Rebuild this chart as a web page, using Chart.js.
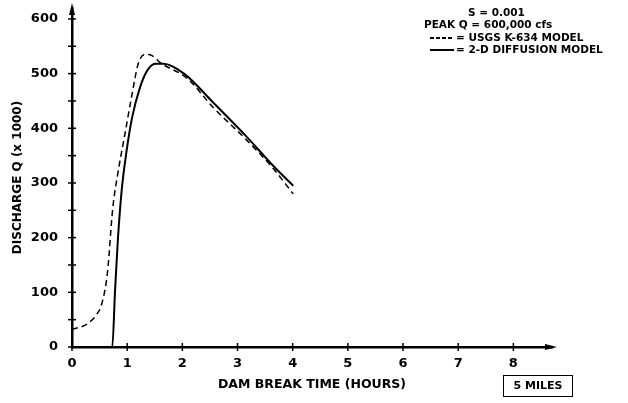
<!DOCTYPE html>
<html><head><meta charset="utf-8">
<script src="https://cdn.jsdelivr.net/npm/chart.js@4/dist/chart.umd.min.js"></script>
<style>
html,body{margin:0;padding:0;background:#fff;}
#wrap{position:relative;width:628px;height:403px;}
canvas{position:absolute;left:0;top:0;}
.t{position:absolute;font-family:'DejaVu Sans',sans-serif;font-weight:bold;font-size:10.5px;line-height:12px;color:#000;white-space:nowrap;}
.dash{position:absolute;height:1.5px;width:24px;background:repeating-linear-gradient(to right,#000 0 4px,transparent 4px 6px);}
.sol{position:absolute;height:1.5px;width:24px;background:#000;}
#box{position:absolute;left:503px;top:375px;width:70px;height:22px;border:1.5px solid #000;box-sizing:border-box;font-family:'DejaVu Sans',sans-serif;font-weight:bold;font-size:11px;line-height:19px;text-align:center;}
</style></head><body>
<div id="wrap">
<canvas id="c" width="628" height="403"></canvas>
<div class="t" style="left:468px;top:6px;">S = 0.001</div>
<div class="t" style="left:424px;top:18px;">PEAK Q = 600,000 cfs</div>
<div class="dash" style="left:430px;top:37px;"></div>
<div class="t" style="left:456px;top:31px;">= USGS K-634 MODEL</div>
<div class="sol" style="left:430px;top:49px;"></div>
<div class="t" style="left:456px;top:43px;">= 2-D DIFFUSION MODEL</div>
<div id="box">5 MILES</div>
</div>
<script>
// Data
const timeUSGS = [0, 0.27, 0.45, 0.54, 0.64, 0.74, 0.83, 0.96, 1.09, 1.2, 1.32, 1.45, 1.6, 2.09, 2.56, 3.18, 3.65, 4.01];
const qUSGS    = [32, 42, 60, 79, 134, 255, 317, 390, 463, 518, 535, 533, 520, 491, 438, 377, 326, 280];
const timeDiff = [0, 0.73, 0.78, 0.83, 0.9, 0.99, 1.09, 1.23, 1.36, 1.51, 1.66, 2.03, 2.56, 3.18, 3.65, 4.01];
const qDiff    = [0, 0, 103, 194, 286, 359, 420, 474, 505, 518, 518, 500, 447, 383, 331, 295];
const xTicks = [0, 1, 2, 3, 4, 5, 6, 7, 8];
const yTicks = [0, 50, 100, 150, 200, 250, 300, 350, 400, 450, 500, 550, 600];
const yLabels = [0, 100, 200, 300, 400, 500, 600];

const toPts = (xs, ys) => xs.map((x, i) => ({x: x, y: ys[i]}));
const FONT = "'DejaVu Sans', sans-serif";

const axisDeco = {
  id: 'axisDeco',
  afterDraw(chart) {
    const ctx = chart.ctx, xs = chart.scales.x, ys = chart.scales.y;
    const x0 = xs.getPixelForValue(0), y0 = ys.getPixelForValue(0);
    ctx.save();
    ctx.strokeStyle = '#000'; ctx.fillStyle = '#000'; ctx.lineWidth = 1.5;
    xTicks.forEach(v => { const p = xs.getPixelForValue(v); ctx.beginPath(); ctx.moveTo(p, y0 - 4); ctx.lineTo(p, y0 + 4); ctx.stroke(); });
    yTicks.forEach(v => { const p = ys.getPixelForValue(v); ctx.beginPath(); ctx.moveTo(x0 - 4, p); ctx.lineTo(x0 + 4, p); ctx.stroke(); });
    const top = ys.top, right = xs.right;
    ctx.beginPath(); ctx.moveTo(x0, top - 5); ctx.lineTo(x0 - 3, top + 7); ctx.lineTo(x0 + 3, top + 7); ctx.closePath(); ctx.fill();
    ctx.beginPath(); ctx.moveTo(right + 5, y0); ctx.lineTo(right - 7, y0 - 3); ctx.lineTo(right - 7, y0 + 3); ctx.closePath(); ctx.fill();
    ctx.restore();
  }
};

new Chart(document.getElementById('c'), {
  type: 'scatter',
  data: {
    datasets: [
      {label: 'USGS K-634 MODEL', data: toPts(timeUSGS, qUSGS), showLine: true, borderColor: '#000', borderWidth: 1.5, borderDash: [6, 4], pointRadius: 0, cubicInterpolationMode: 'monotone', fill: false},
      {label: '2-D DIFFUSION MODEL', data: toPts(timeDiff, qDiff), showLine: true, borderColor: '#000', borderWidth: 2, pointRadius: 0, cubicInterpolationMode: 'monotone', fill: false}
    ]
  },
  options: {
    responsive: false, animation: false,
    layout: {padding: {left: 0, right: 76, top: 8, bottom: 0}},
    plugins: {legend: {display: false}, tooltip: {enabled: false}},
    scales: {
      x: {
        type: 'linear', min: 0, max: 8.7,
        afterBuildTicks: s => { s.ticks = xTicks.map(v => ({value: v})); },
        afterFit: s => { s.height = 56; s.paddingLeft = 0; s.paddingRight = 0; },
        grid: {display: false, drawTicks: false},
        border: {display: true, color: '#000', width: 2.5},
        ticks: {color: '#000', padding: 9, maxRotation: 0, font: {family: FONT, weight: 'bold', size: 13}, callback: v => String(v)},
        title: {display: true, text: 'DAM BREAK TIME (HOURS)', color: '#000', padding: {top: 2, bottom: 11}, font: {family: FONT, weight: 'bold', size: 12.5}}
      },
      y: {
        type: 'linear', min: 0, max: 620,
        afterBuildTicks: s => { s.ticks = yTicks.map(v => ({value: v})); },
        afterFit: s => { s.width = 72; s.paddingTop = 0; s.paddingBottom = 0; },
        grid: {display: false, drawTicks: false},
        border: {display: true, color: '#000', width: 2.5},
        ticks: {color: '#000', padding: 14, font: {family: FONT, weight: 'bold', size: 13}, callback: v => yLabels.includes(v) ? String(v) : ''},
        title: {display: true, text: 'DISCHARGE Q (x 1000)', color: '#000', padding: {top: 11, bottom: 0}, font: {family: FONT, weight: 'bold', size: 12}}
      }
    }
  },
  plugins: [axisDeco]
});
</script>
</body></html>
